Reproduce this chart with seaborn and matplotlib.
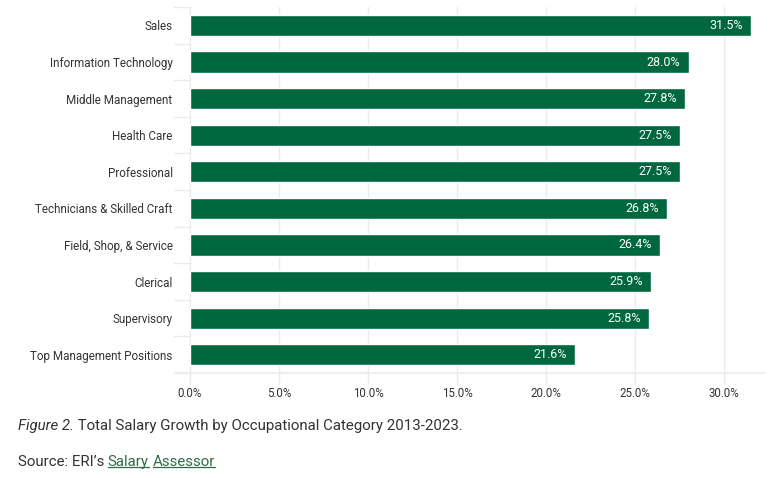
import pandas as pd
import matplotlib.pyplot as plt
import seaborn as sns

# 数据
categories = ['Sales', 'Information Technology', 'Middle Management', 'Health Care',
              'Professional', 'Technicians & Skilled Craft', 'Field, Shop, & Service',
              'Clerical', 'Supervisory', 'Top Management Positions']
growth = [31.5, 28.0, 27.8, 27.5, 27.5, 26.8, 26.4, 25.9, 25.8, 21.6]
xticks = [0, 5, 10, 15, 20, 25, 30]

BAR_COLOR = '#00673F'
TEXT_COLOR = '#333333'
GRID_COLOR = '#EBEBEB'
LINK_COLOR = '#2E6B46'

sns.set_theme(style='white')
plt.rcParams['font.family'] = ['Roboto', 'DejaVu Sans']

df = pd.DataFrame({'Category': categories, 'Growth': growth})

fig = plt.figure(figsize=(7.72, 4.78), dpi=100)
ax = fig.add_axes([0.2254, 0.2197, 0.7656, 0.7653])

sns.barplot(data=df, x='Growth', y='Category', color=BAR_COLOR, width=0.58,
            saturation=1, ax=ax, zorder=3)

ax.set_xlim(-0.9, 32.3)
ax.set_ylim(len(categories) - 0.5, -0.5)
ax.set_xticks(xticks)
ax.set_xticklabels([f'{t:.1f}%' for t in xticks], fontsize=8.3, color=TEXT_COLOR)
ax.tick_params(axis='y', labelsize=8.4, labelcolor=TEXT_COLOR, length=0, pad=1)
ax.tick_params(axis='x', length=0, pad=10)
ax.set_xlabel('')
ax.set_ylabel('')

# 竖向网格线
for t in xticks:
    ax.axvline(t, color=GRID_COLOR, lw=1, zorder=0, ymin=-0.03, ymax=1.0, clip_on=False)

# 左侧类别分隔短线
for b in range(len(categories) + 1):
    y = b - 0.5
    ax.plot([-0.9, 0], [y, y], color=GRID_COLOR, lw=1, zorder=1, clip_on=False)
ax.plot([-0.9, 32.3], [len(categories) - 0.5] * 2, color=GRID_COLOR, lw=1.2,
        zorder=1, clip_on=False)

for s in ax.spines.values():
    s.set_visible(False)

# 数值标签
for i, v in enumerate(growth):
    ax.text(v - 0.45, i, f'{v:.1f}%', ha='right', va='center', color='white',
            fontsize=9, zorder=4)

# 图注 (依次排列)
fig.canvas.draw()
renderer = fig.canvas.get_renderer()


def chain(parts, x0, y, size=10.8):
    x = x0
    arts = []
    for txt, color, style in parts:
        t = fig.text(x, y, txt, fontsize=size, color=color, style=style, va='center')
        bb = t.get_window_extent(renderer).transformed(fig.transFigure.inverted())
        x = bb.x1
        arts.append(t)
    return arts


chain([('Figure 2.', TEXT_COLOR, 'italic'),
       (' Total Salary Growth by Occupational Category 2013-2023.', TEXT_COLOR, 'normal')],
      0.023, 0.108)
src = chain([('Source: ERI\u2019s ', TEXT_COLOR, 'normal'),
             ('Salary', LINK_COLOR, 'normal'),
             (' ', TEXT_COLOR, 'normal'),
             ('Assessor', LINK_COLOR, 'normal')],
            0.023, 0.033)

for t in (src[1], src[3]):
    bb = t.get_window_extent(renderer).transformed(fig.transFigure.inverted())
    fig.add_artist(plt.Line2D([bb.x0, bb.x1], [bb.y0 + 0.004, bb.y0 + 0.004],
                              color=LINK_COLOR, lw=0.9, transform=fig.transFigure))

fig.savefig('out.png', dpi=100)
